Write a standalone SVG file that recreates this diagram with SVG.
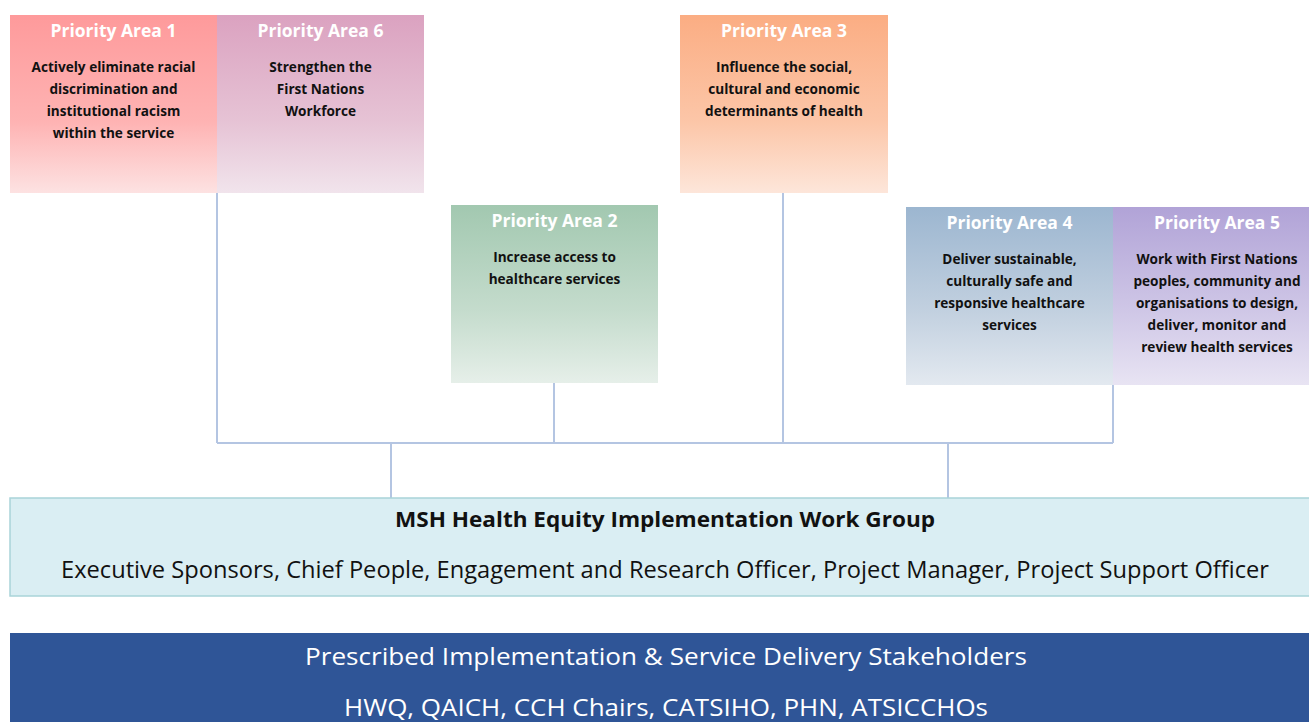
<svg xmlns="http://www.w3.org/2000/svg" width="1309" height="722" viewBox="0 0 1309 722">
<defs>
<linearGradient id="g1" x1="0" y1="0" x2="0" y2="1"><stop offset="0" stop-color="#fe9a9b"/><stop offset="0.6" stop-color="#feb3b3"/><stop offset="1" stop-color="#fde2e2"/></linearGradient>
<linearGradient id="g6" x1="0" y1="0" x2="0" y2="1"><stop offset="0" stop-color="#dba2c0"/><stop offset="0.6" stop-color="#e6c3d5"/><stop offset="1" stop-color="#f1e4ec"/></linearGradient>
<linearGradient id="g3" x1="0" y1="0" x2="0" y2="1"><stop offset="0" stop-color="#fbad83"/><stop offset="0.6" stop-color="#fcc6a8"/><stop offset="1" stop-color="#fde6da"/></linearGradient>
<linearGradient id="g2" x1="0" y1="0" x2="0" y2="1"><stop offset="0" stop-color="#a2c8b0"/><stop offset="0.6" stop-color="#c5dccd"/><stop offset="1" stop-color="#e6efe9"/></linearGradient>
<linearGradient id="g4" x1="0" y1="0" x2="0" y2="1"><stop offset="0" stop-color="#9cb6d0"/><stop offset="0.6" stop-color="#c3d1e0"/><stop offset="1" stop-color="#e3e9f0"/></linearGradient>
<linearGradient id="g5" x1="0" y1="0" x2="0" y2="1"><stop offset="0" stop-color="#b1a3d7"/><stop offset="0.6" stop-color="#d0c8e7"/><stop offset="1" stop-color="#e8e4f3"/></linearGradient>
</defs>
<style>
.h{font-family:"Open Sans","Liberation Sans",sans-serif;font-weight:bold;font-size:17.5px;fill:#ffffff;text-anchor:middle}
.b{font-family:"Open Sans","Liberation Sans",sans-serif;font-weight:bold;font-size:13.6px;fill:#111111;text-anchor:middle}
.c{fill:none;stroke:#b4c5e2;stroke-width:2}
.wt{font-family:"Open Sans","Liberation Sans",sans-serif;font-weight:bold;font-size:21px;fill:#111;text-anchor:middle}
.ws{font-family:"Open Sans","Liberation Sans",sans-serif;font-size:23px;fill:#111;text-anchor:middle}
.st{font-family:"Open Sans","Liberation Sans",sans-serif;font-size:23px;fill:#ffffff;text-anchor:middle}
</style>
<rect width="1309" height="722" fill="#ffffff"/>
<g id="connectors">
<path class="c" d="M217 193V443M554 383V443M783 193V443M1113 385V443M217 443H1113M391 443V498M948 443V498"/>
</g>
<g id="pa1">
<rect x="10" y="15" width="207" height="178" fill="url(#g1)"/>
<text class="h" x="113.5" y="37">Priority Area 1</text>
<text class="b" x="113.5" y="72">Actively eliminate racial</text>
<text class="b" x="113.5" y="94">discrimination and</text>
<text class="b" x="113.5" y="116">institutional racism</text>
<text class="b" x="113.5" y="138">within the service</text>
</g>
<g id="pa6">
<rect x="217" y="15" width="207" height="178" fill="url(#g6)"/>
<text class="h" x="320.5" y="37">Priority Area 6</text>
<text class="b" x="320.5" y="72">Strengthen the</text>
<text class="b" x="320.5" y="94">First Nations</text>
<text class="b" x="320.5" y="116">Workforce</text>
</g>
<g id="pa3">
<rect x="680" y="15" width="208" height="178" fill="url(#g3)"/>
<text class="h" x="784" y="37">Priority Area 3</text>
<text class="b" x="784" y="72">Influence the social,</text>
<text class="b" x="784" y="94">cultural and economic</text>
<text class="b" x="784" y="116">determinants of health</text>
</g>
<g id="pa2">
<rect x="451" y="205" width="207" height="178" fill="url(#g2)"/>
<text class="h" x="554.5" y="227">Priority Area 2</text>
<text class="b" x="554.5" y="262">Increase access to</text>
<text class="b" x="554.5" y="284">healthcare services</text>
</g>
<g id="pa4">
<rect x="906" y="207" width="207" height="178" fill="url(#g4)"/>
<text class="h" x="1009.5" y="229">Priority Area 4</text>
<text class="b" x="1009.5" y="264">Deliver sustainable,</text>
<text class="b" x="1009.5" y="286">culturally safe and</text>
<text class="b" x="1009.5" y="308">responsive healthcare</text>
<text class="b" x="1009.5" y="330">services</text>
</g>
<g id="pa5">
<rect x="1113" y="207" width="196" height="178" fill="url(#g5)"/>
<text class="h" x="1217" y="229">Priority Area 5</text>
<text class="b" x="1217" y="264">Work with First Nations</text>
<text class="b" x="1217" y="286">peoples, community and</text>
<text class="b" x="1217" y="308">organisations to design,</text>
<text class="b" x="1217" y="330">deliver, monitor and</text>
<text class="b" x="1217" y="352">review health services</text>
</g>
<g id="workgroup">
<rect x="10" y="498" width="1310" height="98" fill="#daeef3" stroke="#a9d4d9" stroke-width="1.5"/>
<text class="wt" x="665" y="527" textLength="540" lengthAdjust="spacingAndGlyphs">MSH Health Equity Implementation Work Group</text>
<text class="ws" x="665" y="578" textLength="1208" lengthAdjust="spacingAndGlyphs">Executive Sponsors, Chief People, Engagement and Research Officer, Project Manager, Project Support Officer</text>
</g>
<g id="stakeholders">
<rect x="10" y="633" width="1310" height="95" fill="#2f5597"/>
<text class="st" x="666" y="665" textLength="722" lengthAdjust="spacingAndGlyphs">Prescribed Implementation &amp; Service Delivery Stakeholders</text>
<text class="st" x="666" y="716" textLength="644" lengthAdjust="spacingAndGlyphs">HWQ, QAICH, CCH Chairs, CATSIHO, PHN, ATSICCHOs</text>
</g>
</svg>
